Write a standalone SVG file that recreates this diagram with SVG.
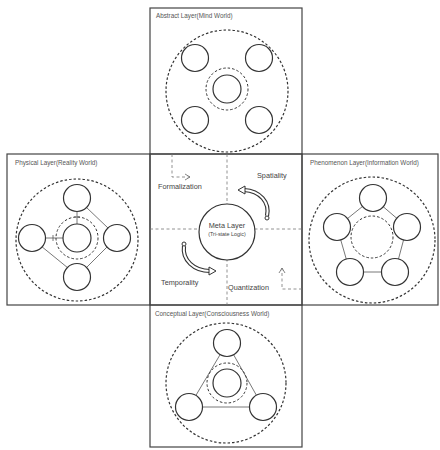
<svg xmlns="http://www.w3.org/2000/svg" width="440" height="450" viewBox="0 0 440 450">
<defs>
<style>
.panel{fill:none;stroke:#444;stroke-width:1.2}
.outer{fill:none;stroke:#333;stroke-width:1.2;stroke-dasharray:2.5 2}
.inner{fill:none;stroke:#333;stroke-width:1;stroke-dasharray:2.5 2}
.node{fill:#fff;stroke:#333;stroke-width:1.2}
.link{fill:none;stroke:#555;stroke-width:0.8}
.title{font-family:"Liberation Sans",Arial,sans-serif;font-size:6.3px;fill:#555}
.lbl{font-family:"Liberation Sans",Arial,sans-serif;font-size:7.3px;fill:#444}
.guide{fill:none;stroke:#777;stroke-width:0.8;stroke-dasharray:3 2.5}
.arc-o{fill:none;stroke:#333;stroke-width:4.2}
.arc-i{fill:none;stroke:#fff;stroke-width:2}
</style>
<marker id="open" markerWidth="8" markerHeight="8" refX="6" refY="4" orient="auto" markerUnits="userSpaceOnUse">
<path d="M1,1 L6,4 L1,7" fill="none" stroke="#666" stroke-width="0.8"/>
</marker>
</defs>
<rect width="440" height="450" fill="#fff"/>

<g id="panels">
<rect class="panel" x="150" y="8" width="152" height="146"/>
<rect class="panel" x="7" y="154" width="143" height="151"/>
<rect class="panel" x="150" y="154" width="152" height="151"/>
<rect class="panel" x="302" y="154" width="136" height="151"/>
<rect class="panel" x="150" y="305" width="152" height="142"/>
</g>

<g id="connectors">
<line class="guide" x1="227" y1="154" x2="227" y2="305"/>
<line class="guide" x1="150" y1="229" x2="302" y2="229"/>
<polyline class="guide" points="172,154 172,177 190,177" marker-end="url(#open)"/>
<polyline class="guide" points="302,289 282,289 282,268" marker-end="url(#open)"/>
</g>

<g id="abstract-layer">
<text class="title" x="156" y="18">Abstract Layer(Mind World)</text>
<circle class="outer" cx="227" cy="91" r="61"/>
<circle class="inner" cx="227" cy="89" r="21"/>
<circle class="node" cx="227" cy="89" r="14"/>
<circle class="node" cx="195" cy="58" r="13.5"/>
<circle class="node" cx="259" cy="58" r="13.5"/>
<circle class="node" cx="195" cy="120" r="13.5"/>
<circle class="node" cx="259" cy="120" r="13.5"/>
</g>

<g id="physical-layer">
<text class="title" x="15" y="165">Physical Layer(Reality World)</text>
<circle class="outer" cx="77" cy="240" r="61"/>
<line class="link" x1="86" y1="207" x2="108" y2="228"/>
<line class="link" x1="108" y1="246" x2="86" y2="268"/>
<line class="link" x1="68" y1="268" x2="41" y2="246"/>
<line class="link" x1="77" y1="211" x2="77" y2="224"/>
<line class="link" x1="74" y1="217" x2="80" y2="217"/>
<line class="link" x1="45" y1="238" x2="63" y2="238"/>
<line class="link" x1="53" y1="235" x2="53" y2="241"/>
<circle class="inner" cx="77" cy="238" r="21"/>
<circle class="node" cx="77" cy="238" r="14"/>
<circle class="node" cx="77" cy="198" r="13.5"/>
<circle class="node" cx="32" cy="238" r="13.5"/>
<circle class="node" cx="117" cy="238" r="13.5"/>
<circle class="node" cx="77" cy="277" r="13.5"/>
</g>

<g id="phenomenon-layer">
<text class="title" x="310" y="165">Phenomenon Layer(Information World)</text>
<circle class="outer" cx="372" cy="240" r="63"/>
<circle class="inner" cx="372" cy="237" r="21"/>
<polygon class="link" points="373,198 407,227 395,272 350,272 337,227"/>
<circle class="node" cx="373" cy="198" r="13.5"/>
<circle class="node" cx="337" cy="227" r="13.5"/>
<circle class="node" cx="407" cy="227" r="13.5"/>
<circle class="node" cx="350" cy="272" r="13.5"/>
<circle class="node" cx="395" cy="272" r="13.5"/>
</g>

<g id="conceptual-layer">
<text class="title" x="155" y="316">Conceptual Layer(Consciousness World)</text>
<circle class="outer" cx="226" cy="383" r="60"/>
<polygon class="link" points="227,343 263,407 189,407"/>
<circle class="inner" cx="227" cy="383" r="20"/>
<circle class="node" cx="227" cy="383" r="14"/>
<circle class="node" cx="227" cy="343" r="13.5"/>
<circle class="node" cx="189" cy="407" r="13.5"/>
<circle class="node" cx="263" cy="407" r="13.5"/>
</g>

<g id="meta-layer">
<circle class="node" cx="227" cy="232" r="28"/>
<text class="lbl" x="227" y="228" text-anchor="middle" font-size="8">Meta Layer</text>
<text class="lbl" x="227" y="236" text-anchor="middle" style="font-size:5.4px">(Tri-state Logic)</text>
</g>

<g id="spatiality">
<path class="arc-o" d="M267,216 C270,202 260,191 244,190"/>
<path class="arc-i" d="M267,216 C270,202 260,191 244,190"/>
<path d="M245,186 L238,190 L245,194 Z" fill="#fff" stroke="#333" stroke-width="1"/>
<circle cx="267" cy="218" r="2" fill="#fff" stroke="#333" stroke-width="1"/>
<text class="lbl" x="257" y="178">Spatiality</text>
</g>

<g id="temporality">
<path class="arc-o" d="M184,246 C182,260 194,271 210,271"/>
<path class="arc-i" d="M184,246 C182,260 194,271 210,271"/>
<path d="M209,267 L216,271 L209,275 Z" fill="#fff" stroke="#333" stroke-width="1"/>
<circle cx="184" cy="244" r="2" fill="#fff" stroke="#333" stroke-width="1"/>
<text class="lbl" x="161" y="285">Temporality</text>
</g>

<g id="labels">
<text class="lbl" x="158" y="189">Formalization</text>
<text class="lbl" x="228" y="290">Quantization</text>
</g>
</svg>
